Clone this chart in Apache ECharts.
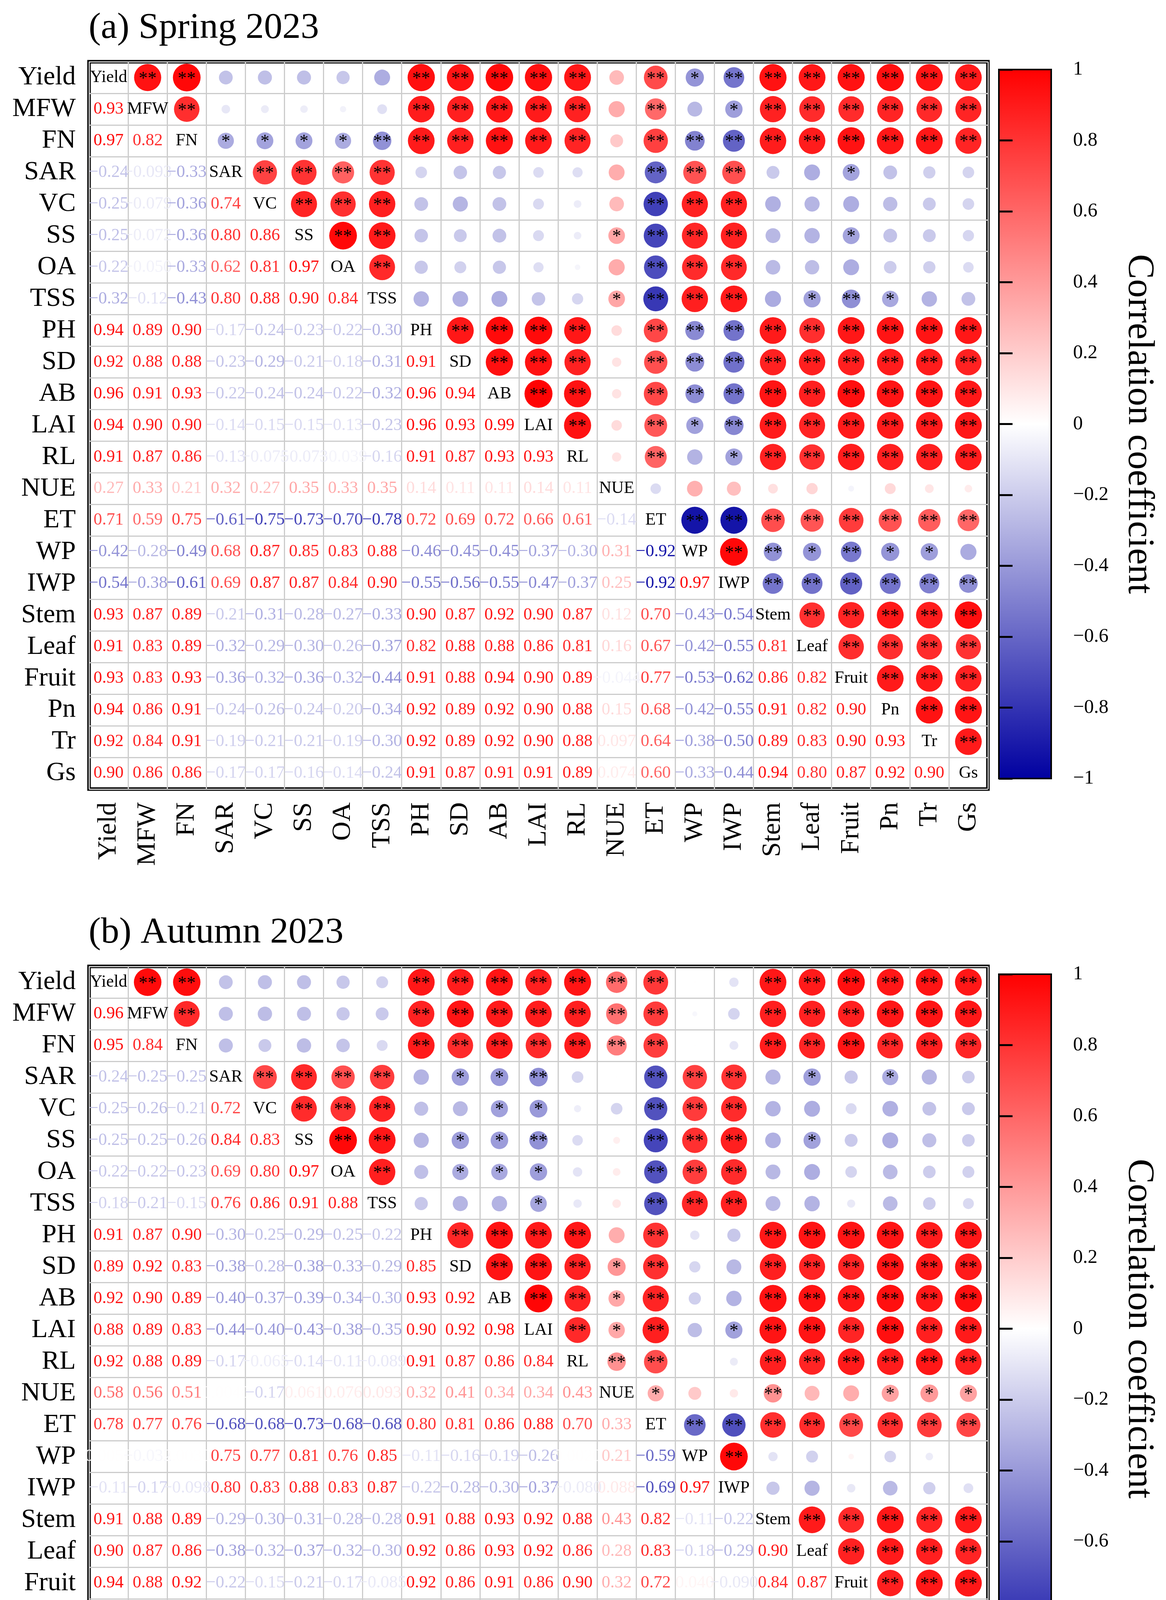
<!DOCTYPE html>
<html>
<head>
<meta charset="utf-8">
<script src="https://cdn.jsdelivr.net/npm/echarts@6/dist/echarts.min.js"></script>
<style>
  html, body { margin: 0; padding: 0; background: #fff; }
  #main { width: 2986px; height: 4546px; }
</style>
</head>
<body>
<div id="main"></div>
<script>
// variable names, top to bottom / left to right
var vars = ['Yield', 'MFW', 'FN', 'SAR', 'VC', 'SS', 'OA', 'TSS', 'PH', 'SD', 'AB', 'LAI',
  'RL', 'NUE', 'ET', 'WP', 'IWP', 'Stem', 'Leaf', 'Fruit', 'Pn', 'Tr', 'Gs'];

// lower triangle, row k+1 holds r with columns 0..k
var springLower = [
  [0.93],
  [0.97, 0.82],
  [-0.24, -0.093, -0.33],
  [-0.25, -0.079, -0.36, 0.74],
  [-0.25, -0.072, -0.36, 0.80, 0.86],
  [-0.22, -0.050, -0.33, 0.62, 0.81, 0.97],
  [-0.32, -0.12, -0.43, 0.80, 0.88, 0.90, 0.84],
  [0.94, 0.89, 0.90, -0.17, -0.24, -0.23, -0.22, -0.30],
  [0.92, 0.88, 0.88, -0.23, -0.29, -0.21, -0.18, -0.31, 0.91],
  [0.96, 0.91, 0.93, -0.22, -0.24, -0.24, -0.22, -0.32, 0.96, 0.94],
  [0.94, 0.90, 0.90, -0.14, -0.15, -0.15, -0.13, -0.23, 0.96, 0.93, 0.99],
  [0.91, 0.87, 0.86, -0.13, -0.075, -0.073, -0.039, -0.16, 0.91, 0.87, 0.93, 0.93],
  [0.27, 0.33, 0.21, 0.32, 0.27, 0.35, 0.33, 0.35, 0.14, 0.11, 0.11, 0.14, 0.11],
  [0.71, 0.59, 0.75, -0.61, -0.75, -0.73, -0.70, -0.78, 0.72, 0.69, 0.72, 0.66, 0.61, -0.14],
  [-0.42, -0.28, -0.49, 0.68, 0.87, 0.85, 0.83, 0.88, -0.46, -0.45, -0.45, -0.37, -0.30, 0.31, -0.92],
  [-0.54, -0.38, -0.61, 0.69, 0.87, 0.87, 0.84, 0.90, -0.55, -0.56, -0.55, -0.47, -0.37, 0.25, -0.92, 0.97],
  [0.93, 0.87, 0.89, -0.21, -0.31, -0.28, -0.27, -0.33, 0.90, 0.87, 0.92, 0.90, 0.87, 0.12, 0.70, -0.43, -0.54],
  [0.91, 0.83, 0.89, -0.32, -0.29, -0.30, -0.26, -0.37, 0.82, 0.88, 0.88, 0.86, 0.81, 0.16, 0.67, -0.42, -0.55, 0.81],
  [0.93, 0.83, 0.93, -0.36, -0.32, -0.36, -0.32, -0.44, 0.91, 0.88, 0.94, 0.90, 0.89, -0.044, 0.77, -0.53, -0.62, 0.86, 0.82],
  [0.94, 0.86, 0.91, -0.24, -0.26, -0.24, -0.20, -0.34, 0.92, 0.89, 0.92, 0.90, 0.88, 0.15, 0.68, -0.42, -0.55, 0.91, 0.82, 0.90],
  [0.92, 0.84, 0.91, -0.19, -0.21, -0.21, -0.19, -0.30, 0.92, 0.89, 0.92, 0.90, 0.88, 0.097, 0.64, -0.38, -0.50, 0.89, 0.83, 0.90, 0.93],
  [0.90, 0.86, 0.86, -0.17, -0.17, -0.16, -0.14, -0.24, 0.91, 0.87, 0.91, 0.91, 0.89, 0.074, 0.60, -0.33, -0.44, 0.94, 0.80, 0.87, 0.92, 0.90]
];

// significance marks of the upper triangle, row i, columns i+1.. (0 none, 1 *, 2 **)
var springStars = [
  '2200000222220212222222',
  '200000222220201222222',
  '11112222220222222222',
  '2222000000222001000',
  '222000000222000000',
  '22000001222001000',
  '2000000222000000',
  '000001222012100',
  '22220222222222',
  '2220222222222',
  '220222222222',
  '20212222222',
  '0201222222',
  '000000000',
  '22222222',
  '2212110',
  '222222',
  '22222',
  '2222',
  '222',
  '22',
  '2'
];

var autumnLower = [
  [0.96],
  [0.95, 0.84],
  [-0.24, -0.25, -0.25],
  [-0.25, -0.26, -0.21, 0.72],
  [-0.25, -0.25, -0.26, 0.84, 0.83],
  [-0.22, -0.22, -0.23, 0.69, 0.80, 0.97],
  [-0.18, -0.21, -0.15, 0.76, 0.86, 0.91, 0.88],
  [0.91, 0.87, 0.90, -0.30, -0.25, -0.29, -0.25, -0.22],
  [0.89, 0.92, 0.83, -0.38, -0.28, -0.38, -0.33, -0.29, 0.85],
  [0.92, 0.90, 0.89, -0.40, -0.37, -0.39, -0.34, -0.30, 0.93, 0.92],
  [0.88, 0.89, 0.83, -0.44, -0.40, -0.43, -0.38, -0.35, 0.90, 0.92, 0.98],
  [0.92, 0.88, 0.89, -0.17, -0.065, -0.14, -0.11, -0.089, 0.91, 0.87, 0.86, 0.84],
  [0.58, 0.56, 0.51, 0.004, -0.17, 0.061, 0.076, 0.093, 0.32, 0.41, 0.34, 0.34, 0.43],
  [0.78, 0.77, 0.76, -0.68, -0.68, -0.73, -0.68, -0.68, 0.80, 0.81, 0.86, 0.88, 0.70, 0.33],
  [0.005, -0.032, 0.003, 0.75, 0.77, 0.81, 0.76, 0.85, -0.11, -0.16, -0.19, -0.26, 0.002, 0.21, -0.59],
  [-0.11, -0.17, -0.098, 0.80, 0.83, 0.88, 0.83, 0.87, -0.22, -0.28, -0.30, -0.37, -0.080, 0.088, -0.69, 0.97],
  [0.91, 0.88, 0.89, -0.29, -0.30, -0.31, -0.28, -0.28, 0.91, 0.88, 0.93, 0.92, 0.88, 0.43, 0.82, -0.11, -0.22],
  [0.90, 0.87, 0.86, -0.38, -0.32, -0.37, -0.32, -0.30, 0.92, 0.86, 0.93, 0.92, 0.86, 0.28, 0.83, -0.18, -0.29, 0.90],
  [0.94, 0.88, 0.92, -0.22, -0.15, -0.21, -0.17, -0.085, 0.92, 0.86, 0.91, 0.86, 0.90, 0.32, 0.72, 0.040, -0.090, 0.84, 0.87],
  [0.91, 0.91, 0.85, -0.33, -0.31, -0.32, -0.27, -0.27, 0.92, 0.92, 0.94, 0.94, 0.89, 0.37, 0.82, -0.17, -0.27, 0.91, 0.90, 0.88],
  [0.92, 0.92, 0.88, -0.29, -0.24, -0.25, -0.20, -0.20, 0.89, 0.91, 0.91, 0.88, 0.91, 0.40, 0.77, -0.073, -0.19, 0.86, 0.88, 0.91, 0.95],
  [0.91, 0.91, 0.85, -0.20, -0.21, -0.20, -0.18, -0.15, 0.91, 0.90, 0.94, 0.90, 0.88, 0.37, 0.73, 0.004, -0.12, 0.90, 0.86, 0.91, 0.93, 0.90]
];

var autumnStars = [
  '2200000222222200222222',
  '200000222222200222222',
  '00000222222200222222',
  '2222011200222010100',
  '222001100222000000',
  '22011200222010000',
  '2011100222000000',
  '000100222000000',
  '22220200222222',
  '2221200222222',
  '221200222222',
  '21201222222',
  '2200222222',
  '100200111',
  '22222222',
  '2000000',
  '000000',
  '22222',
  '2222',
  '222',
  '22',
  '2'
];

var titles = ['(a) Spring 2023', '(b) Autumn 2023'];
var cbTicks = 0.2;

var FONT = '"Liberation Serif", "Times New Roman", serif';
var BLUE = '#0000a0';
var RED = '#ff0000';

function fmt(v) {
  return v.toPrecision(2).replace('-', '\u2212');
}

// [col, row, r, kind, stars]; kind 0 = number, 1 = name, 2 = circle
function buildCells(lower, stars) {
  var data = [];
  for (var i = 0; i < vars.length; i++) {
    data.push([i, i, 1, 1, 0]);
    for (var j = i + 1; j < vars.length; j++) {
      var r = lower[j - 1][i];
      data.push([i, j, r, 0, 0]);
      data.push([j, i, r, 2, +stars[i].charAt(j - i - 1)]);
    }
  }
  return data;
}

function renderCell(params, api) {
  var c = api.coord([api.value(0), api.value(1)]);
  var sz = api.size([1, 1]);
  var r = api.value(2);
  var kind = api.value(3);
  var nStar = api.value(4);
  var color = api.visual('color');
  if (kind === 1) {
    return {
      type: 'text',
      style: { text: vars[api.value(0)], x: c[0], y: c[1], fill: '#000',
        fontSize: 44, fontFamily: FONT, align: 'center', verticalAlign: 'middle' }
    };
  }
  if (kind === 0) {
    return {
      type: 'text',
      style: { text: fmt(r), x: c[0], y: c[1], fill: color,
        fontSize: 44, fontFamily: FONT, align: 'center', verticalAlign: 'middle' }
    };
  }
  var rad = 0.445 * Math.min(sz[0], sz[1]) * Math.sqrt(Math.abs(r));
  var children = [{
    type: 'circle',
    shape: { cx: c[0], cy: c[1], r: rad },
    style: { fill: color }
  }];
  if (nStar > 0) {
    children.push({
      type: 'text',
      style: { text: nStar === 2 ? '**' : '*', x: c[0], y: c[1] + 4, fill: '#000',
        fontSize: 46, fontFamily: FONT, align: 'center', verticalAlign: 'middle' }
    });
  }
  return { type: 'group', children: children };
}

var myChart = echarts.init(document.getElementById('main'));

var matTop = [158, 2474];
var cbTop = [178, 2494];

function matX(idx) {
  return {
    type: 'category',
    gridIndex: idx,
    data: vars,
    axisLine: { show: false },
    axisTick: { show: false },
    axisLabel: { interval: 0, rotate: 90, margin: 34, fontSize: 68, fontFamily: FONT, color: '#000' },
    splitLine: { show: true, interval: 0, lineStyle: { color: '#cccccc', width: 3 } }
  };
}
function matY(idx) {
  return {
    type: 'category',
    gridIndex: idx,
    data: vars,
    inverse: true,
    axisLine: { show: false },
    axisTick: { show: false },
    axisLabel: { interval: 0, margin: 34, fontSize: 68, fontFamily: FONT, color: '#000' },
    splitLine: { show: true, interval: 0, lineStyle: { color: '#cccccc', width: 3 } }
  };
}
function cbX(idx) {
  return { type: 'value', gridIndex: idx, show: false, min: 0, max: 1 };
}
function cbY(idx) {
  return {
    type: 'value',
    gridIndex: idx,
    position: 'right',
    min: -1,
    max: 1,
    interval: cbTicks,
    axisLine: { show: true, lineStyle: { color: '#000', width: 4 } },
    axisTick: { show: true, length: 35, lineStyle: { color: '#000', width: 5 } },
    axisLabel: {
      margin: 56, fontSize: 50, fontFamily: FONT, color: '#000',
      formatter: function (v) {
        return String(Math.round(v * 10) / 10).replace('-', '\u2212');
      }
    },
    splitLine: { show: false },
    name: 'Correlation coefficient',
    nameLocation: 'middle',
    nameRotate: -90,
    nameGap: 176,
    nameTextStyle: { fontSize: 96, fontFamily: FONT, color: '#000' }
  };
}

var gradient = new echarts.graphic.LinearGradient(0, 0, 0, 1, [
  { offset: 0, color: RED },
  { offset: 0.5, color: '#ffffff' },
  { offset: 1, color: BLUE }
]);

var option = {
  backgroundColor: '#fff',
  animation: false,
  title: [0, 1].map(function (k) {
    return {
      text: titles[k],
      left: 227,
      top: matTop[k] - 133,
      padding: 0,
      textStyle: { fontSize: 94, fontWeight: 'normal', fontFamily: FONT, color: '#000' }
    };
  }),
  visualMap: {
    type: 'continuous',
    show: false,
    min: -1,
    max: 1,
    dimension: 2,
    seriesIndex: [0, 1],
    inRange: { color: [BLUE, '#ffffff', RED] }
  },
  grid: [
    { left: 228, top: matTop[0], width: 2302, height: 1862, show: true, backgroundColor: '#fff', borderColor: '#000', borderWidth: 9 },
    { left: 228, top: matTop[1], width: 2302, height: 1862, show: true, backgroundColor: '#fff', borderColor: '#000', borderWidth: 9 },
    { left: 2558, top: cbTop[0], width: 134, height: 1815, show: true, backgroundColor: gradient, borderColor: '#000', borderWidth: 4 },
    { left: 2558, top: cbTop[1], width: 134, height: 1815, show: true, backgroundColor: gradient, borderColor: '#000', borderWidth: 4 }
  ],
  xAxis: [matX(0), matX(1), cbX(2), cbX(3)],
  yAxis: [matY(0), matY(1), cbY(2), cbY(3)],
  series: [
    {
      type: 'custom',
      xAxisIndex: 0,
      yAxisIndex: 0,
      renderItem: renderCell,
      encode: { x: 0, y: 1 },
      data: buildCells(springLower, springStars),
      z: 5
    },
    {
      type: 'custom',
      xAxisIndex: 1,
      yAxisIndex: 1,
      renderItem: renderCell,
      encode: { x: 0, y: 1 },
      data: buildCells(autumnLower, autumnStars),
      z: 5
    }
  ]
};

myChart.setOption(option);
</script>
</body>
</html>
